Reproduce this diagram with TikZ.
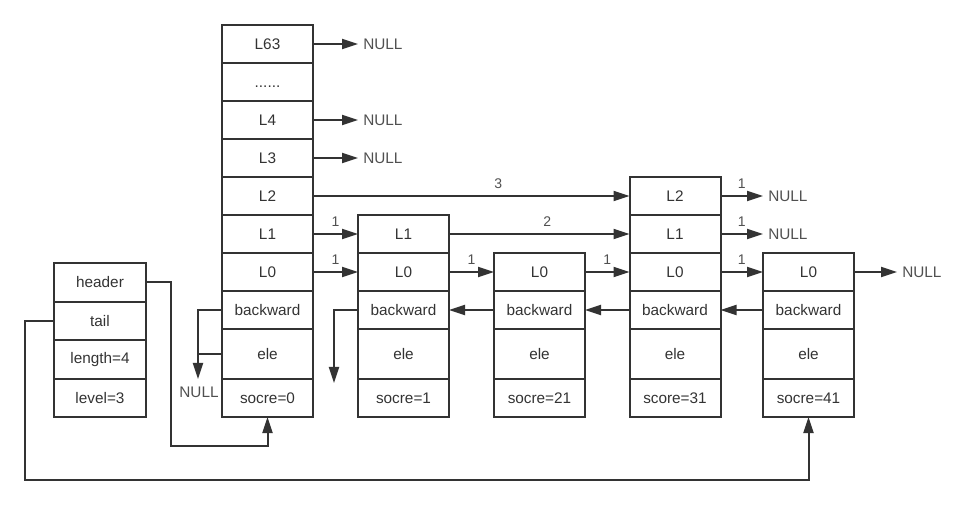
\documentclass[tikz,border=0pt]{standalone}
\usepackage{fontspec}
\setmainfont{Liberation Sans}
\usetikzlibrary{arrows.meta}
\definecolor{ink}{HTML}{333333}
\definecolor{nullc}{HTML}{505050}
\begin{document}
\begin{tikzpicture}[x=0.75pt,y=-0.75pt,
  font=\fontsize{11.5}{13}\selectfont,
  cell/.style={draw=ink, line width=1.5pt, minimum width=68.25pt, minimum height=28.5pt, inner sep=0pt, outer sep=0pt, text=ink},
  tallcell/.style={cell, minimum height=37.5pt},
  scell/.style={cell, minimum width=69pt, minimum height=28.875pt},
  conn/.style={draw=ink, line width=1.5pt},
  arr/.style={conn, -{Triangle[length=12pt,width=7.5pt]}},
  nulltxt/.style={text=nullc, anchor=west, inner xsep=3.75pt, inner ysep=0pt},
  num/.style={text=nullc, font=\fontsize{10.5}{12}\selectfont, inner sep=0pt, above=4.5pt}
]
\useasboundingbox (0,0) rectangle (970,505);

% struct
\node[scell] (hdr)  at (100,282.5) {header};
\node[scell] (tail) at (100,321) {tail};
\node[scell] (len)  at (100,359.75) {length=4};
\node[scell] (lvl)  at (100,398) {level=3};

% head column
\node[cell] (h63)  at (267.5,44) {L63};
\node[cell] (hdot) at (267.5,82) {\vphantom{L}......};
\node[cell] (h4)   at (267.5,120) {L4};
\node[cell] (h3)   at (267.5,158) {L3};
\node[cell] (h2)   at (267.5,196) {L2};
\node[cell] (h1)   at (267.5,234) {L1};
\node[cell] (h0)   at (267.5,272) {L0};
\node[cell] (hbk)  at (267.5,310) {backward};
\node[tallcell] (hele) at (267.5,354) {ele};
\node[cell] (hsc)  at (267.5,398) {socre=0};

% node 1
\node[cell] (n11)  at (403.5,234) {L1};
\node[cell] (n10)  at (403.5,272) {L0};
\node[cell] (n1bk) at (403.5,310) {backward};
\node[tallcell] (n1ele) at (403.5,354) {ele};
\node[cell] (n1sc) at (403.5,398) {socre=1};

% node 2
\node[cell] (n20)  at (539.5,272) {L0};
\node[cell] (n2bk) at (539.5,310) {backward};
\node[tallcell] (n2ele) at (539.5,354) {ele};
\node[cell] (n2sc) at (539.5,398) {socre=21};

% node 3
\node[cell] (n32)  at (675,196) {L2};
\node[cell] (n31)  at (675,234) {L1};
\node[cell] (n30)  at (675,272) {L0};
\node[cell] (n3bk) at (675,310) {backward};
\node[tallcell] (n3ele) at (675,354) {ele};
\node[cell] (n3sc) at (675,398) {score=31};

% node 4
\node[cell] (n40)  at (808.5,272) {L0};
\node[cell] (n4bk) at (808.5,310) {backward};
\node[tallcell] (n4ele) at (808.5,354) {ele};
\node[cell] (n4sc) at (808.5,398) {socre=41};

% NULL targets
\node[nulltxt] (nl63) at (358,44) {NULL};
\node[nulltxt] (nl4)  at (358,120) {NULL};
\node[nulltxt] (nl3)  at (358,158) {NULL};
\node[nulltxt] (nl32) at (763,196) {NULL};
\node[nulltxt] (nl31) at (763,234) {NULL};
\node[nulltxt] (nl40) at (897,272) {NULL};
\node[text=nullc, inner sep=0pt] (hnull) at (199,392) {NULL};

\draw[arr] (h63.east) -- (nl63.west);
\draw[arr] (h4.east) -- (nl4.west);
\draw[arr] (h3.east) -- (nl3.west);
\draw[arr] (n32.east) -- node[num]{1} (nl32.west);
\draw[arr] (n31.east) -- node[num]{1} (nl31.west);
\draw[arr] (n40.east) -- (nl40.west);

% forward pointers
\draw[arr] (h2.east) -- node[num, pos=0.585]{3} (n32.west);
\draw[arr] (h1.east) -- node[num]{1} (n11.west);
\draw[arr] (n11.east) -- node[num, pos=0.544]{2} (n31.west);
\draw[arr] (h0.east) -- node[num]{1} (n10.west);
\draw[arr] (n10.east) -- node[num]{1} (n20.west);
\draw[arr] (n20.east) -- node[num]{1} (n30.west);
\draw[arr] (n30.east) -- node[num]{1} (n40.west);

% backward pointers
\draw[arr] (n2bk.west) -- (n1bk.east);
\draw[arr] (n3bk.west) -- (n2bk.east);
\draw[arr] (n4bk.west) -- (n3bk.east);

\coordinate (hn) at (198,379);
\draw[arr] (hbk.west) -| (hn);
\draw[conn] (hele.west) -- (hele.west -| hn);

\coordinate (n1n) at (334,383);
\draw[arr] (n1bk.west) -| (n1n);

% header / tail
\coordinate (hb) at (171,446);
\draw[arr] (hdr.east) -| (hb) -| (hsc.south);
\coordinate (tb) at (25,480);
\draw[arr] (tail.west) -| (tb) -| (n4sc.south);
\end{tikzpicture}
\end{document}
